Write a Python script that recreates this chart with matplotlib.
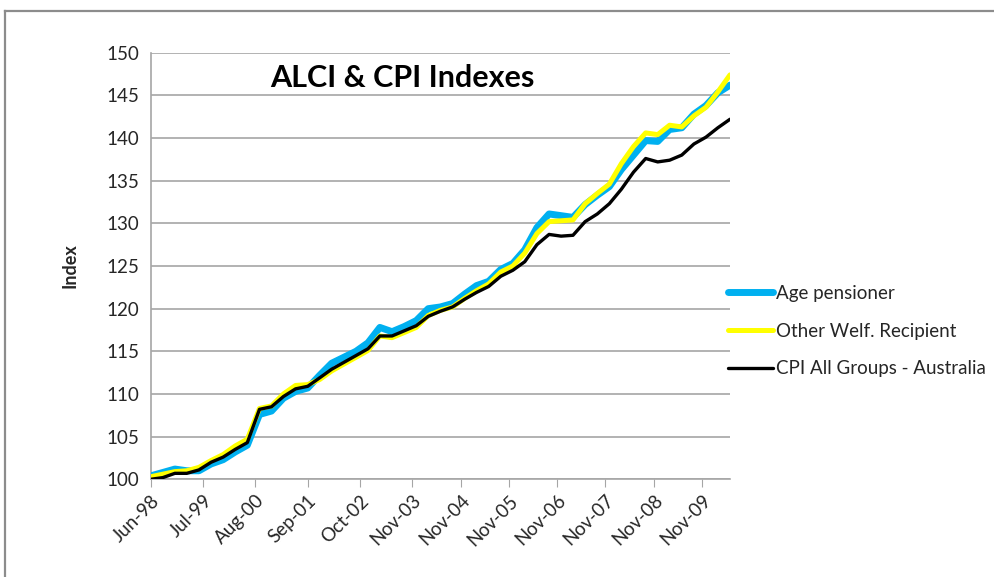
import matplotlib
matplotlib.use("Agg")
import matplotlib.pyplot as plt
import pandas as pd
from matplotlib.lines import Line2D

# quarterly observations, Jun-98 .. Jun-10 (Jun-98 = 100)
dates = pd.date_range("1998-06-01", periods=49, freq="3MS")

age_pensioner = [
    100.4, 100.8, 101.2, 101.0, 101.0, 101.8, 102.3, 103.2, 104.0, 107.6,
    108.0, 109.5, 110.3, 110.7, 112.2, 113.6, 114.3, 115.0, 116.0, 117.8,
    117.3, 117.9, 118.6, 120.0, 120.2, 120.6, 121.7, 122.7, 123.2, 124.6,
    125.3, 126.9, 129.5, 131.1, 130.9, 130.7, 132.2, 133.3, 134.3, 136.3,
    138.0, 139.7, 139.6, 141.0, 141.2, 142.8, 143.8, 145.3, 146.2,
]
other_welf = [
    100.3, 100.6, 100.9, 101.0, 101.4, 102.2, 102.9, 103.9, 104.7, 108.3,
    108.6, 110.0, 111.0, 111.1, 111.7, 112.7, 113.5, 114.3, 115.1, 116.8,
    116.6, 117.2, 117.8, 119.2, 119.8, 120.2, 121.2, 122.1, 122.9, 124.3,
    125.0, 126.5, 128.8, 130.2, 130.3, 130.4, 132.3, 133.5, 134.6, 137.0,
    139.0, 140.6, 140.4, 141.5, 141.3, 142.6, 143.6, 145.4, 147.4,
]
cpi_all = [
    100.0, 100.2, 100.7, 100.7, 101.1, 102.0, 102.6, 103.5, 104.3, 108.2,
    108.5, 109.7, 110.6, 110.9, 111.9, 112.9, 113.7, 114.5, 115.3, 116.8,
    116.8, 117.4, 118.0, 119.1, 119.7, 120.2, 121.1, 121.9, 122.6, 123.8,
    124.5, 125.5, 127.5, 128.7, 128.5, 128.6, 130.2, 131.1, 132.3, 134.0,
    136.0, 137.6, 137.2, 137.4, 138.0, 139.3, 140.1, 141.2, 142.2,
]

tick_labels = ["Jun-98", "Jul-99", "Aug-00", "Sep-01", "Oct-02", "Nov-03",
               "Nov-04", "Nov-05", "Nov-06", "Nov-07", "Nov-08", "Nov-09"]
tick_dates = pd.to_datetime(tick_labels, format="%b-%y")

plt.rcParams["font.family"] = ["Lato", "DejaVu Sans"]
txt = "#262626"
grid_col = "#a6a6a6"

fig = plt.figure(figsize=(9.95, 5.77), dpi=100)

# outer frame of the original figure: only top and left edges are visible
top_y = 1 - 11 / 577
left_x = 5 / 995
fig.lines.append(Line2D([left_x, 1.0], [top_y, top_y], transform=fig.transFigure,
                        color="#8c8c8c", linewidth=1.6))
fig.lines.append(Line2D([left_x, left_x], [0, top_y], transform=fig.transFigure,
                        color="#8c8c8c", linewidth=1.6))

ax = fig.add_axes([150.7 / 995, 1 - 479.3 / 577,
                   (730 - 150.7) / 995, (479.3 - 52.7) / 577])

ax.plot(dates, age_pensioner, color="#00b0f0", linewidth=5.0,
        label="Age pensioner", solid_capstyle="round", zorder=3)
ax.plot(dates, other_welf, color="#ffff00", linewidth=3.6,
        label="Other Welf. Recipient", solid_capstyle="round", zorder=4)
ax.plot(dates, cpi_all, color="black", linewidth=2.4,
        label="CPI All Groups - Australia", solid_capstyle="round", zorder=5)

ax.set_xlim(pd.Timestamp("1998-06-01"), pd.Timestamp("2010-06-01"))
ax.set_ylim(100, 150)
ax.set_yticks(range(100, 151, 5))
ax.set_xticks(tick_dates)
ax.set_xticklabels(tick_labels, rotation=45, ha="right",
                   rotation_mode="anchor", fontsize=13.5, color=txt)
ax.tick_params(axis="y", length=0, labelsize=13.5, colors=txt, pad=8)
ax.tick_params(axis="x", length=6, color=grid_col, direction="out", pad=3)

ax.grid(axis="y", color=grid_col, linewidth=1.2)
ax.set_axisbelow(True)
for side in ("top", "right"):
    ax.spines[side].set_visible(False)
for side in ("left", "bottom"):
    ax.spines[side].set_color(grid_col)
    ax.spines[side].set_linewidth(1.2)

ax.set_ylabel("Index", fontsize=13, fontweight="bold", color=txt, labelpad=20)
ax.text(0.435, 0.94, "ALCI & CPI Indexes", transform=ax.transAxes,
        ha="center", va="center", fontsize=22, fontweight="bold", color="black")

leg = fig.legend(loc="center left", bbox_to_anchor=(719 / 995, 1 - 331 / 577),
                 frameon=False, fontsize=13.5, handlelength=2.4,
                 handletextpad=0.15, labelspacing=1.1, borderpad=0)
for t in leg.get_texts():
    t.set_color(txt)

fig.savefig("out.png", dpi=100)
